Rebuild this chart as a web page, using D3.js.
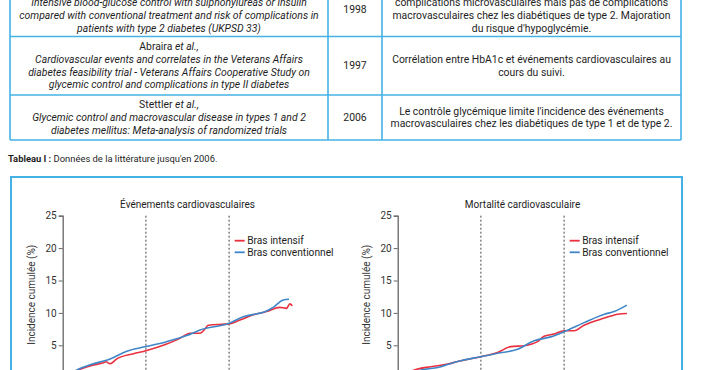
<!DOCTYPE html>
<html>
<head>
<meta charset="utf-8">
<script src="https://cdn.jsdelivr.net/npm/d3@7"></script>
<style>
  body { margin: 0; background: #fff; }
  svg { display: block; font-family: Roboto, "DejaVu Sans", sans-serif; }
</style>
</head>
<body>
<svg id="page" width="702" height="370"></svg>
<script>
// table contents
const refAuthors = [null, "Abraira", "Stettler"];
const refTitles = [
    ["Intensive blood-glucose control with sulphonylureas or insulin",
     "compared with conventional treatment and risk of complications in",
     "patients with type 2 diabetes (UKPSD 33)"],
    ["Cardiovascular events and correlates in the Veterans Affairs",
     "diabetes feasibility trial - Veterans Affairs Cooperative Study on",
     "glycemic control and complications in type II diabetes"],
    ["Glycemic control and macrovascular disease in types 1 and 2",
     "diabetes mellitus: Meta-analysis of randomized trials"],
];
const refYears = ["1998", "1997", "2006"];
const refResults = [
    ["complications microvasculaires mais pas de complications",
     "macrovasculaires chez les diabétiques de type 2. Majoration",
     "du risque d'hypoglycémie."],
    ["Corrélation entre HbA1c et événements cardiovasculaires au",
     "cours du suivi."],
    ["Le contrôle glycémique limite l'incidence des événements",
     "macrovasculaires chez les diabétiques de type 1 et de type 2."],
];

// chart data (years of follow-up, cumulative incidence %)
const yTicks = [5, 10, 15, 20, 25];
const dashedYears = [2, 4];
const seriesNames = ["Bras intensif", "Bras conventionnel"];
const seriesColors = ["#e8303f", "#3f86c8"];

const cvIntensifT = [0, 0.34, 0.7, 0.98, 1.04, 1.14, 1.3, 1.7, 2.0, 2.5, 2.82, 3.06, 3.3, 3.4, 3.5, 4.0, 4.26, 4.58, 4.9, 5.22, 5.38, 5.46, 5.52];
const cvIntensifV = [0, 1.1, 1.9, 2.3, 2.45, 2.15, 2.9, 3.7, 4.17, 5.2, 6.07, 6.85, 6.85, 7.36, 8.1, 8.3, 8.9, 9.7, 10.2, 10.86, 10.7, 11.4, 11.1];
const cvConvT = [0, 0.34, 0.66, 1.14, 1.54, 2.0, 2.5, 2.98, 3.3, 4.0, 4.34, 4.9, 5.06, 5.3, 5.44];
const cvConvV = [0, 1.2, 2.0, 2.9, 4.1, 4.8, 5.56, 6.5, 7.36, 8.4, 9.4, 10.3, 10.86, 12.0, 12.1];

const mortIntensifT = [0, 0.4, 0.8, 1.2, 1.44, 2.0, 2.4, 2.72, 3.04, 3.36, 3.52, 3.76, 4.0, 4.24, 4.48, 4.97, 5.29, 5.51];
const mortIntensifV = [0, 1.2, 1.7, 2.1, 2.5, 3.24, 3.9, 4.8, 4.94, 5.56, 6.4, 6.75, 7.25, 7.25, 8.1, 9.2, 9.8, 9.9];
const mortConvT = [0, 0.56, 1.04, 1.28, 1.44, 2.0, 2.4, 2.88, 3.28, 3.68, 4.0, 4.48, 4.97, 5.2, 5.51];
const mortConvV = [0, 1.2, 1.7, 2.2, 2.5, 3.24, 3.76, 4.38, 5.7, 6.3, 7.1, 8.5, 9.8, 10.2, 11.2];

const zip = (t, v) => t.map((d, i) => ({ t: d, v: v[i] }));

const blue = "#45b2e6";
const ink = "#1e1e1e";
const fs = 10.4;
const svg = d3.select("#page");

// ---- table ----
const colX = [10, 328, 382, 681];
const rowY = [-22, 36.5, 95, 140];
const lineH = 12.7;

const table = svg.append("g");
rowY.slice(1).forEach((y) => {
    table.append("line").attr("x1", colX[0]).attr("x2", colX[3])
        .attr("y1", y).attr("y2", y)
        .attr("stroke", blue).attr("stroke-width", 1.6);
});
colX.forEach((x) => {
    table.append("line").attr("x1", x).attr("x2", x)
        .attr("y1", rowY[0]).attr("y2", rowY[3])
        .attr("stroke", blue).attr("stroke-width", 1.6);
});

refTitles.forEach((lines, i) => {
    const top = rowY[i], bot = rowY[i + 1];
    const n = lines.length + (refAuthors[i] ? 1 : 0);
    const cy = i === 0 ? 15.5 : (top + bot) / 2;
    const y0 = cy - (n - 1) * lineH / 2;
    const cx = (colX[0] + colX[1]) / 2;
    let k = 0;
    if (refAuthors[i]) {
        const tl = table.append("text").attr("text-anchor", "middle")
            .attr("font-size", fs).attr("fill", ink)
            .attr("x", cx).attr("y", y0).attr("dy", "0.35em");
        tl.append("tspan").text(refAuthors[i] + " ");
        tl.append("tspan").attr("font-style", "italic").text("et al.,");
        k = 1;
    }
    lines.forEach((s, j) => {
        table.append("text").attr("text-anchor", "middle")
            .attr("font-size", fs).attr("font-style", "italic").attr("fill", ink)
            .attr("x", cx).attr("y", y0 + (j + k) * lineH).attr("dy", "0.35em")
            .text(s);
    });

    table.append("text").attr("text-anchor", "middle")
        .attr("font-size", fs).attr("fill", ink)
        .attr("x", (colX[1] + colX[2]) / 2)
        .attr("y", i === 0 ? 9 : (top + bot) / 2 - 0.5).attr("dy", "0.35em")
        .text(refYears[i]);

    const res = refResults[i];
    const ry0 = (i === 0 ? 15.5 : (top + bot) / 2) - (res.length - 1) * lineH / 2;
    res.forEach((s, j) => {
        table.append("text").attr("text-anchor", "middle")
            .attr("font-size", fs).attr("fill", ink)
            .attr("x", (colX[2] + colX[3]) / 2)
            .attr("y", ry0 + j * lineH).attr("dy", "0.35em")
            .text(s);
    });
});

const cap = svg.append("text").attr("x", 8).attr("y", 159).attr("dy", "0.35em")
    .attr("font-size", 9.4).attr("fill", ink);
cap.append("tspan").attr("font-weight", "bold").text("Tableau I : ");
cap.append("tspan").text("Données de la littérature jusqu'en 2006.");

// ---- figure box ----
svg.append("rect").attr("x", 11).attr("y", 177).attr("width", 671).attr("height", 220)
    .attr("fill", "none").attr("stroke", blue).attr("stroke-width", 2);

const x = d3.scaleLinear().domain([0, 6]).range([0, 249.6]);
const y = d3.scaleLinear().domain([0, 25]).range([162, 0]);

function drawPanel(left, title, series) {
    const g = svg.append("g").attr("transform", `translate(${left},215.7)`);

    g.selectAll(".dash").data(dashedYears).join("line")
        .attr("x1", (d) => x(d)).attr("x2", (d) => x(d))
        .attr("y1", 0).attr("y2", 170)
        .attr("stroke", "#444").attr("stroke-width", 1)
        .attr("stroke-dasharray", "2,2");

    const ax = g.append("g").call(d3.axisLeft(y).tickValues(yTicks).tickSize(4).tickPadding(2));
    ax.select(".domain").attr("stroke", "#666").attr("stroke-width", 1.3);
    ax.selectAll(".tick line").attr("stroke", "#666");
    ax.selectAll(".tick text").attr("font-size", 10).attr("fill", "#333")
        .attr("font-family", "Roboto, sans-serif");

    g.append("text").attr("transform", `translate(-31,${y(12.8)}) rotate(-90)`)
        .attr("text-anchor", "middle").attr("dy", "0.35em")
        .attr("font-size", 10).attr("fill", "#333")
        .text("Incidence cumulée (%)");

    g.append("text").attr("x", x(3)).attr("y", -11.5).attr("dy", "0.35em")
        .attr("text-anchor", "middle").attr("font-size", 10).attr("fill", ink)
        .text(title);

    const line = d3.line().x((d) => x(d.t)).y((d) => y(d.v)).curve(d3.curveMonotoneX);
    g.selectAll(".series").data(series).join("path")
        .attr("d", (d) => line(d))
        .attr("fill", "none")
        .attr("stroke", (d, i) => seriesColors[i])
        .attr("stroke-width", 1.6);

    const lg = g.append("g").attr("transform", "translate(172,25)");
    seriesNames.forEach((name, i) => {
        lg.append("line").attr("x1", 0).attr("x2", 10)
            .attr("y1", i * 11.6).attr("y2", i * 11.6)
            .attr("stroke", seriesColors[i]).attr("stroke-width", 1.8);
        lg.append("text").attr("x", 12.5).attr("y", i * 11.6).attr("dy", "0.35em")
            .attr("font-size", 10.2).attr("fill", ink).text(name);
    });
}

drawPanel(62.7, "Événements cardiovasculaires",
    [zip(cvIntensifT, cvIntensifV), zip(cvConvT, cvConvV)]);
drawPanel(397.7, "Mortalité cardiovasculaire",
    [zip(mortIntensifT, mortIntensifV), zip(mortConvT, mortConvV)]);
</script>
</body>
</html>
